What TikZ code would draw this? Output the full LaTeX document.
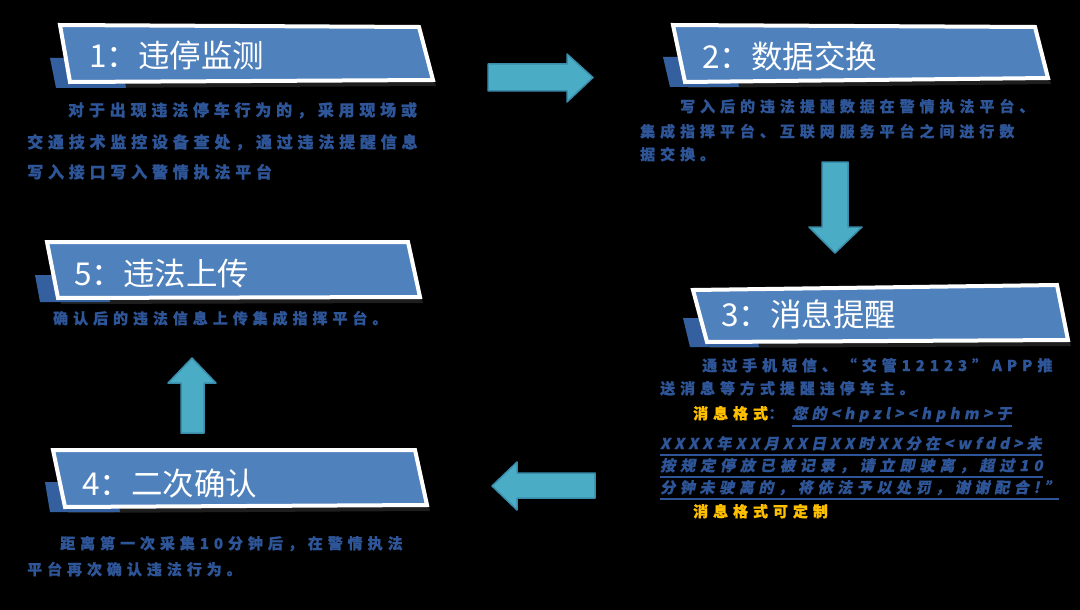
\documentclass[tikz,border=0pt]{standalone}
\usepackage{fontspec}
\newfontfamily\cjk{Noto Sans CJK SC}
\usetikzlibrary{calc}
\definecolor{bannerblue}{HTML}{4F81BD}
\definecolor{shadeblue}{HTML}{35609F}
\definecolor{bodyblue}{HTML}{2E5597}
\definecolor{arrowfill}{HTML}{4BACC6}
\definecolor{arrowedge}{HTML}{3A8CAB}
\definecolor{tipyellow}{HTML}{FFC000}
\definecolor{dropgray}{HTML}{1E1E1E}
\tikzset{
  banner/.style={fill=bannerblue, draw=white, line width=4pt, line join=miter},
  bannershade/.style={fill=shadeblue},
  bannerdrop/.style={fill=dropgray},
  title/.style={font=\cjk\fontsize{31.5}{31.5}\selectfont, text=white, anchor=base west, inner sep=0pt},
  bodytext/.style={font=\cjk\bfseries\fontsize{15}{15}\selectfont\addfontfeature{LetterSpace=33,FakeBold=0.8}, text=bodyblue, anchor=base west, inner sep=0pt},
  bigbody/.style={bodytext, font=\cjk\bfseries\fontsize{16}{16}\selectfont\addfontfeature{LetterSpace=30,FakeBold=0.8}},
  linktext/.style={bodytext, font=\cjk\bfseries\fontsize{15}{15}\selectfont\addfontfeature{LetterSpace=#1,FakeSlant=0.2,FakeBold=0.8}},
  linktext/.default=33,
  notetext/.style={bodytext, text=tipyellow},
  ulline/.style={draw=bodyblue, line width=1.3pt},
  blockarrow/.style={fill=arrowfill, draw=arrowedge, line width=1.5pt, line join=round},
}
\begin{document}
\begin{tikzpicture}[x=1pt, y=-1pt]
\fill[black] (0,0) rectangle (1080,610);
\useasboundingbox (0,0) rectangle (1080,610);

% ---------- banner 1 ----------
\fill[bannerdrop] (63,30) -- (422,32) -- (436,86) -- (73,88) -- cycle;
\fill[bannershade] (50,58) -- (120,58) -- (126,88) -- (56,88) -- cycle;
\draw[banner] (60,25) -- (419,27) -- (433,80) -- (70,82) -- cycle;
\node[title] (t1) at (89,67) {1：违停监测};
\node[bigbody] (b1a) at (68,116) {对于出现违法停车行为的，采用现场或};
\node[bigbody] (b1b) at (27,148) {交通技术监控设备查处，通过违法提醒信息};
\node[bigbody] (b1c) at (27,178) {写入接口写入警情执法平台};

% ---------- banner 2 ----------
\fill[bannerdrop] (676,30) -- (1038,32) -- (1051,84) -- (688,88) -- cycle;
\fill[bannershade] (663,57) -- (733,57) -- (739,87) -- (670,87) -- cycle;
\draw[banner] (673,25) -- (1035,27) -- (1048,78) -- (685,82) -- cycle;
\node[title] (t2) at (702,68.5) {2：数据交换};
\node[bodytext] (b2a) at (680,112) {写入后的违法提醒数据在警情执法平台、};
\node[bodytext] (b2b) at (640,137) {集成指挥平台、互联网服务平台之间进行数};
\node[bodytext] (b2c) at (640,160) {据交换。};

% ---------- banner 3 ----------
\fill[bannerdrop] (696,295) -- (1060,290) -- (1071,346) -- (710,348) -- cycle;
\fill[bannershade] (683,318) -- (753,318) -- (759,347) -- (690,347) -- cycle;
\draw[banner] (693,290) -- (1057,285) -- (1068,340) -- (707,342) -- cycle;
\node[title] (t3) at (721,326.5) {3：消息提醒};
\node[bodytext] (b3a) at (702,371) {通过手机短信、“交管12123”APP推};
\node[bodytext] (b3b) at (660,394) {送消息等方式提醒违停车主。};
\node[notetext] (b3c) at (693,419) {消息格式};
\node[bodytext] (b3d) at (b3c.base east) {：};
\node[linktext=29] (u3) at (792,419) {您的<hpzl><hphm>于};
\node[linktext=28] (u4) at (660,449) {XXXX年XX月XX日XX时XX分在<wfdd>未};
\node[linktext] (u5) at (660,471) {按规定停放已被记录，请立即驶离，超过10};
\node[linktext=31] (u6) at (660,493) {分钟未驶离的，将依法予以处罚，谢谢配合!”};
\node[notetext] (b3e) at (693,517) {消息格式可定制};
\draw[ulline] ($(u3.base west)+(0,7)$) -- ($(u3.base east)+(0,7)$);
\draw[ulline] ($(u4.base west)+(0,6)$) -- ($(u4.base east)+(0,6)$);
\draw[ulline] ($(u5.base west)+(0,6)$) -- ($(u5.base east)+(0,6)$);
\draw[ulline] ($(u6.base west)+(0,6)$) -- ($(u6.base east)+(0,6)$);

% ---------- banner 5 ----------
\fill[bannerdrop] (50,247) -- (411,247) -- (423,303) -- (61,304) -- cycle;
\fill[bannershade] (35,275) -- (105,275) -- (110,302) -- (40,302) -- cycle;
\draw[banner] (47,242) -- (408,242) -- (420,297) -- (58,298) -- cycle;
\node[title] (t5) at (74,285.5) {5：违法上传};
\node[bodytext] (b5a) at (53,324) {确认后的违法信息上传集成指挥平台。};

% ---------- banner 4 ----------
\fill[bannerdrop] (56,455) -- (418,455) -- (430,511) -- (68,513) -- cycle;
\fill[bannershade] (45,482) -- (115,482) -- (120,512) -- (50,512) -- cycle;
\draw[banner] (53,450) -- (415,450) -- (427,505) -- (65,507) -- cycle;
\node[title] (t4) at (82,495) {4：二次确认};
\node[bodytext] (b4a) at (60,549) {距离第一次采集10分钟后，在警情执法};
\node[bodytext] (b4b) at (27,575) {平台再次确认违法行为。};

% ---------- block arrows ----------
\draw[blockarrow] (488,64) -- (567,64) -- (567,54) -- (593,77.5) -- (567,102) -- (567,91) -- (488,91) -- cycle;
\draw[blockarrow] (822,162) -- (848,162) -- (848,227) -- (862,227) -- (835,253) -- (809,227) -- (822,227) -- cycle;
\draw[blockarrow] (181,433) -- (181,383) -- (168,383) -- (192,358) -- (216,383) -- (204,383) -- (204,433) -- cycle;
\draw[blockarrow] (595,473) -- (517,473) -- (517,462) -- (492,486) -- (517,510) -- (517,498) -- (595,498) -- cycle;
\end{tikzpicture}
\end{document}
